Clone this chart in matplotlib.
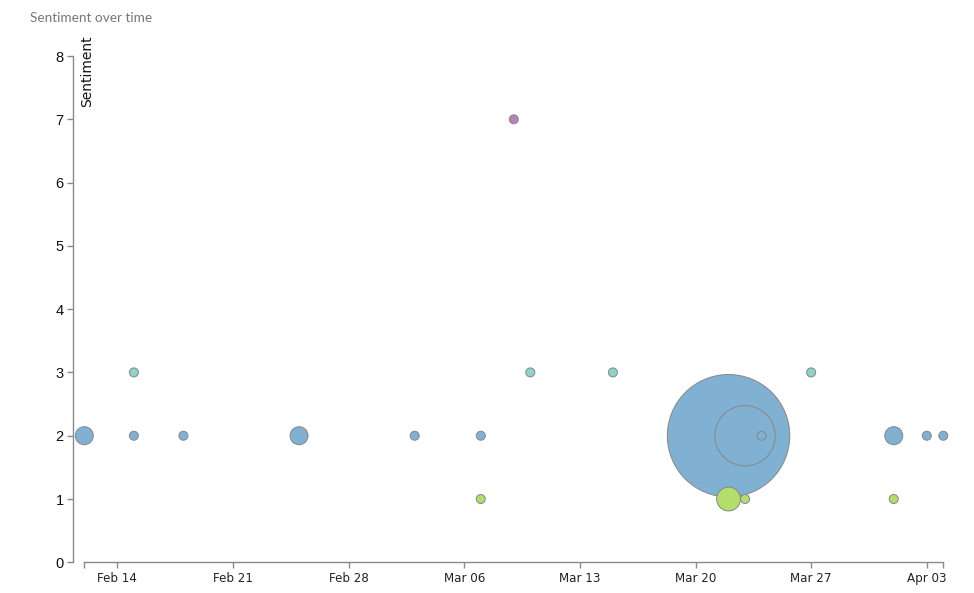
import numpy as np
import pandas as pd
import matplotlib
matplotlib.use("Agg")
import matplotlib.pyplot as plt
import matplotlib.dates as mdates

# one row per (day, sentiment) group; count drives the bubble area
dates = ["2016-02-12", "2016-02-15", "2016-02-15", "2016-02-18", "2016-02-25",
         "2016-03-03", "2016-03-07", "2016-03-07", "2016-03-09", "2016-03-10",
         "2016-03-15", "2016-03-22", "2016-03-22", "2016-03-23", "2016-03-23",
         "2016-03-24", "2016-03-27", "2016-04-01", "2016-04-01", "2016-04-03",
         "2016-04-04"]
sentiment = [2, 2, 3, 2, 2,
             2, 2, 1, 7, 3,
             3, 2, 1, 2, 1,
             2, 3, 2, 1, 2,
             2]
counts = [4, 1, 1, 1, 4,
          1, 1, 1, 1, 1,
          1, 185, 7, 45, 1,
          1, 1, 4, 1, 1,
          1]
week_ticks = ["2016-02-14", "2016-02-21", "2016-02-28", "2016-03-06",
              "2016-03-13", "2016-03-20", "2016-03-27", "2016-04-03"]
y_ticks = [0, 1, 2, 3, 4, 5, 6, 7, 8]

# Set3-style colours per sentiment value
palette = {1: "#b3de69", 2: "#80b1d3", 3: "#8dd3c7", 7: "#bc80bd"}

x = pd.to_datetime(dates)
x_start = pd.Timestamp("2016-02-12")
x_end = pd.Timestamp("2016-04-04")

fig = plt.figure(figsize=(9.74, 5.93), dpi=100)
ax = fig.add_axes([73.3 / 974, 1 - 562.3 / 593, 870 / 974, 506.3 / 593])

px = 0.72  # points per pixel at 100 dpi
radius_px = 4.5 * np.sqrt(np.array(counts, dtype=float))
sizes = (2 * radius_px * px) ** 2
ax.scatter(x, sentiment, s=sizes, c=[palette[v] for v in sentiment],
           edgecolors="#888888", linewidths=1 * px, clip_on=False, zorder=3)

left_pad = pd.Timedelta(days=11 / 16.51)
ax.set_xlim(x_start - left_pad, x_end)
ax.set_ylim(0, 8)

for side in ["top", "right"]:
    ax.spines[side].set_visible(False)
for side in ["left", "bottom"]:
    ax.spines[side].set_color("#8a8a8a")
    ax.spines[side].set_linewidth(1.0)
ax.spines["bottom"].set_bounds(mdates.date2num(x_start), mdates.date2num(x_end))

ax.set_xticks(pd.to_datetime(week_ticks))
ax.xaxis.set_major_formatter(mdates.DateFormatter("%b %d"))
ax.set_xticks([x_start, x_end], minor=True)
ax.set_yticks(y_ticks)

ax.tick_params(axis="both", which="both", direction="out", length=6 * px,
               width=1.0, color="#8a8a8a")
ax.tick_params(axis="x", which="major", labelsize=8.6, pad=3, labelcolor="#222222")
ax.tick_params(axis="y", which="major", pad=2.5, labelcolor="#111111")
for lab in ax.get_yticklabels():
    lab.set_fontfamily("Liberation Sans")
    lab.set_fontsize(10.5)

fig.text(80.5 / 974, 1 - 35 / 593, "Sentiment", rotation=90, ha="left", va="top",
         fontsize=10, color="#111111")
fig.text(30 / 974, 1 - 18 / 593, "Sentiment over time", ha="left", va="center",
         fontsize=9.8, color="#777777", family="Lato")

fig.savefig("out.png", dpi=100)
